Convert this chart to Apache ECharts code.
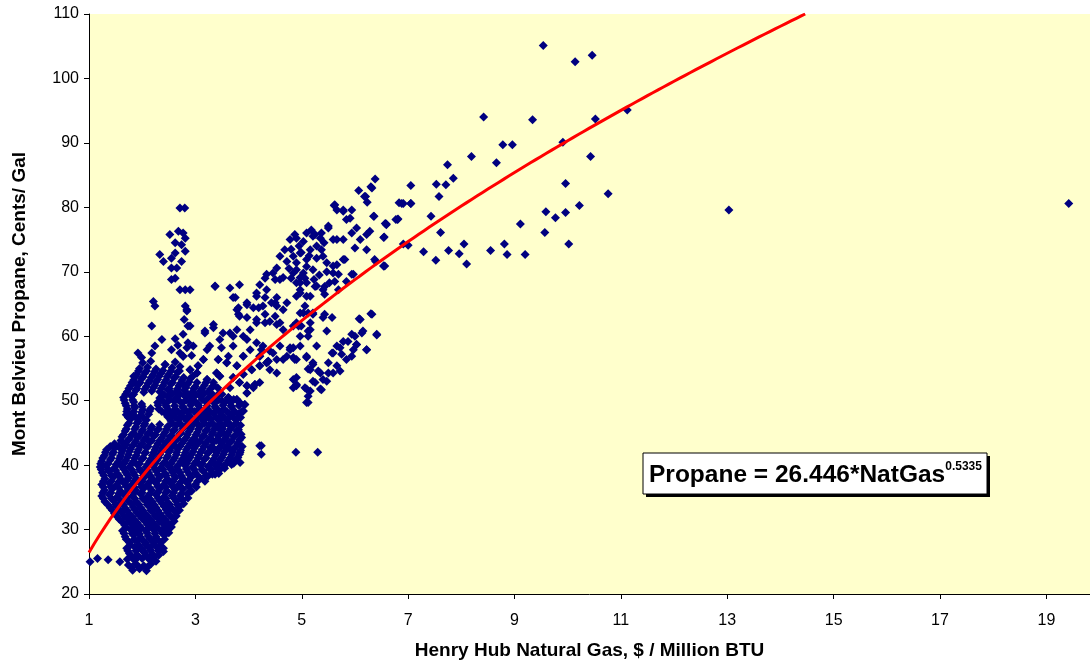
<!DOCTYPE html>
<html>
  <head>
    <meta charset="utf-8">
    <script src="https://cdn.jsdelivr.net/npm/echarts@6/dist/echarts.min.js"></script>
    <style>
      html, body { margin: 0; padding: 0; background: #fff; }
      #chart { width: 1090px; height: 665px; }
    </style>
  </head>
  <body>
    <div id="chart"></div>
    <script>
      // tick labels
      var xTicks = [1, 3, 5, 7, 9, 11, 13, 15, 17, 19];

      // fitted trend shown on the chart: Propane = 26.446*NatGas^0.5335
      var fitCoef = 26.446;
      var fitExp = 0.5335;

      // scatter points [natGas $/MMBTU, propane c/gal]
      var lowCluster = [
        [1.82,23.7],[1.95,23.9],[2.08,23.6],
        [1.74,24.5],[1.88,24.7],[2.03,24.4],[2.16,24.6],
        [1.02,25.0],[1.16,25.5],[1.36,25.3],[1.58,25.0],[1.72,25.4],[1.86,25.2],[2.00,25.5],[2.14,25.3],[2.26,25.1],
        [1.76,26.3],[1.90,26.1],[2.05,26.4],[2.19,26.2],[2.31,26.0],
        [1.71,27.1],[1.86,27.3],[1.99,27.0],[2.12,27.2],[2.26,27.4],[2.40,27.1],
        [1.76,28.0],[1.91,28.2],[2.07,27.9],[2.21,28.1],[2.35,28.0],
        [1.68,28.9],[1.84,29.1],[1.97,28.8],[2.11,29.0],[2.26,28.9],[2.43,29.2],
        [1.63,29.8],[1.78,30.0],[1.92,29.7],[2.07,29.9],[2.21,30.0],[2.35,29.8],[2.48,30.1],
        [1.67,30.7],[1.81,30.9],[1.95,30.6],[2.10,30.8],[2.24,30.7],[2.38,31.0],[2.52,30.8],
        [1.57,31.6],[1.71,31.8],[1.86,31.5],[2.00,31.7],[2.14,31.6],[2.28,31.9],[2.43,31.6],[2.57,31.8],
        [1.48,32.5],[1.61,32.7],[1.76,32.4],[1.90,32.6],[2.05,32.5],[2.19,32.8],[2.33,32.5],[2.47,32.7],[2.64,32.6],
        [1.40,33.4],[1.53,33.6],[1.68,33.3],[1.83,33.5],[1.97,33.4],[2.12,33.7],[2.26,33.4],[2.41,33.6],[2.55,33.3],[2.69,33.5]
      ];

      var midCluster = [
        [1.30,34.3],[1.46,34.5],[1.60,34.2],[1.74,34.4],[1.89,34.3],[2.05,34.6],[2.19,34.3],[2.33,34.5],[2.48,34.2],[2.64,34.4],[2.77,34.6],
        [1.24,35.2],[1.38,35.4],[1.53,35.1],[1.67,35.3],[1.82,35.2],[1.97,35.5],[2.11,35.2],[2.26,35.4],[2.41,35.1],[2.56,35.3],[2.71,35.2],[2.85,35.5],[2.93,36.0],
        [1.29,36.1],[1.44,36.3],[1.59,36.0],[1.74,36.2],[1.88,36.1],[2.03,36.4],[2.18,36.1],[2.33,36.3],[2.47,36.0],[2.62,36.2],[2.77,36.3],
        [1.24,37.0],[1.38,37.2],[1.52,36.9],[1.67,37.1],[1.81,37.0],[1.95,37.3],[2.10,37.0],[2.26,37.2],[2.40,36.9],[2.54,37.1],[2.69,37.0],[2.85,37.2],[3.00,37.0],
        [1.30,37.9],[1.46,38.1],[1.60,37.8],[1.74,38.0],[1.89,37.9],[2.05,38.2],[2.19,37.9],[2.33,38.1],[2.48,37.8],[2.62,38.0],[2.77,37.9],[2.92,38.1],[3.09,38.0],[3.24,38.3],[3.37,38.6],
        [1.25,38.8],[1.38,39.0],[1.53,38.7],[1.69,38.9],[1.84,38.8],[1.98,39.1],[2.12,38.8],[2.27,39.0],[2.43,38.7],[2.57,38.9],[2.71,38.8],[2.85,39.0],[3.00,38.8],[3.15,39.1],[3.30,39.3],[3.45,39.2],
        [1.21,39.7],[1.32,39.9],[1.48,39.6],[1.62,39.8],[1.76,39.7],[1.91,40.0],[2.07,39.7],[2.21,39.9],[2.35,39.6],[2.50,39.8],[2.65,39.7],[2.81,39.9],[2.95,39.7],[3.09,40.0],[3.24,39.8],[3.38,40.0],[3.53,39.9],[3.68,40.1],
        [1.24,40.6],[1.40,40.8],[1.55,40.5],[1.69,40.7],[1.84,40.6],[1.99,40.9],[2.14,40.6],[2.28,40.8],[2.43,40.5],[2.58,40.7],[2.73,40.6],[2.87,40.8],[3.02,40.6],[3.17,40.9],[3.32,40.6],[3.47,40.8],[3.62,40.7],[3.76,40.9],
        [1.29,41.5],[1.44,41.7],[1.59,41.4],[1.74,41.6],[1.89,41.5],[2.05,41.8],[2.19,41.5],[2.33,41.7],[2.48,41.4],[2.64,41.6],[2.79,41.5],[2.93,41.7],[3.07,41.5],[3.23,41.8],[3.38,41.5],[3.53,41.7],[3.68,41.6],[3.83,41.7],
        [1.33,42.4],[1.48,42.6],[1.63,42.3],[1.78,42.5],[1.93,42.4],[2.08,42.7],[2.24,42.4],[2.38,42.6],[2.52,42.3],[2.67,42.5],[2.83,42.4],[2.98,42.6],[3.13,42.4],[3.28,42.7],[3.43,42.4],[3.57,42.6],[3.72,42.5],[3.85,42.3],
        [1.48,43.3],[1.62,43.6],[1.70,43.2],[1.86,43.4],[2.00,43.3],[2.14,43.6],[2.29,43.3],[2.45,43.5],[2.60,43.2],[2.75,43.4],[2.90,43.3],[3.05,43.5],[3.19,43.3],[3.34,43.6],[3.49,43.3],[3.64,43.5],[3.80,43.4],
        [1.62,44.4],[1.76,44.1],[1.91,44.3],[2.07,44.2],[2.22,44.5],[2.37,44.2],[2.52,44.4],[2.67,44.1],[2.83,44.3],[2.98,44.2],[3.13,44.4],[3.28,44.2],[3.43,44.5],[3.57,44.2],[3.72,44.4],[3.87,44.3],
        [1.68,45.3],[1.84,45.0],[1.99,45.2],[2.14,45.1],[2.28,45.4],[2.43,45.1],[2.58,45.3],[2.73,45.0],[2.88,45.2],[3.04,45.1],[3.19,45.3],[3.33,45.1],[3.47,45.4],[3.62,45.1],[3.78,45.3],
        [1.72,46.2],[1.88,45.9],[2.03,46.1],[2.18,46.0],[2.33,46.3],[2.48,46.0],[2.64,46.2],[2.79,45.9],[2.94,46.1],[3.09,46.0],[3.25,46.2],[3.40,46.0],[3.55,46.3],[3.70,46.0],[3.85,46.2],
        [1.78,47.1],[1.93,46.8],[2.08,47.0],[2.54,46.9],[2.69,47.1],[2.85,46.8],[3.00,47.0],[3.15,46.9],[3.30,47.1],[3.45,46.9],[3.61,47.2],[3.76,47.0]
      ];

      var upperCore = [
        [1.70,47.8],[1.82,48.0],[1.97,47.7],[2.12,47.9],[2.43,48.1],[2.58,47.8],[2.73,48.0],[2.88,47.7],[3.04,47.9],[3.19,47.8],[3.34,48.1],[3.49,47.8],[3.64,48.0],[3.81,47.9],[3.90,48.4],
        [1.72,48.7],[1.86,48.9],[2.01,48.6],[2.16,48.8],[2.31,48.7],[2.46,49.0],[2.62,48.7],[2.77,48.9],[2.92,48.6],[3.07,48.8],[3.23,48.7],[3.38,48.9],[3.53,48.7],[3.68,49.0],[3.83,49.7],
        [1.68,49.6],[1.84,49.8],[1.99,49.5],[2.29,49.7],[2.45,49.6],[2.60,49.9],[2.75,49.6],[2.90,49.8],[3.05,49.5],[3.21,49.7],[3.36,49.6],[3.51,49.9],[3.66,49.7],[3.93,49.4],
        [1.65,50.5],[1.80,50.7],[2.33,50.4],[2.48,50.6],[2.64,50.5],[2.79,50.8],[2.94,50.5],[3.09,50.7],[3.25,50.4],[3.40,50.6],[3.62,50.5],[3.78,50.2],
        [1.72,51.4],[1.88,51.6],[2.03,51.3],[2.18,51.5],[2.33,51.4],[2.48,51.7],[2.64,51.4],[2.79,51.6],[2.94,51.3],[3.09,51.5],[3.25,51.4],[3.46,51.2],[3.97,51.2],
        [1.78,52.3],[1.93,52.5],[2.08,52.2],[2.24,52.4],[2.39,52.3],[2.54,52.6],[2.69,52.3],[2.85,52.5],[3.00,52.2],[3.17,52.4],[3.34,52.3],[3.83,52.8],[3.97,52.3],[4.12,52.5],
        [1.84,53.2],[1.99,53.4],[2.14,53.1],[2.29,53.3],[2.45,53.2],[2.60,53.5],[2.75,53.2],[2.90,53.4],[3.22,53.3],[3.46,53.8],[3.71,53.6],
        [1.90,54.1],[2.05,54.3],[2.20,54.0],[2.35,54.2],[2.50,54.1],[2.66,54.4],[2.90,54.8],[3.03,54.3],[3.40,54.3],[3.90,54.1],[4.06,54.8],
        [1.95,55.0],[2.10,55.2],[2.26,54.9],[2.43,55.6],[2.56,55.1],[2.71,55.3],[3.05,55.4],[3.78,55.4],[4.21,55.4],
        [2.01,55.9],[2.16,56.1],[2.62,56.0],[2.77,56.9],[3.15,56.4],[3.43,56.4],[3.59,55.9],[3.90,56.9],[4.21,56.9],[4.37,56.1],[4.34,55.9]
      ];

      // points sitting between the rows above, where the core is solid
      var coreFill = [
        [1.80,24.1],[1.95,24.1],[2.10,24.2],
        [1.79,25.8],[1.93,25.8],[2.08,25.9],[2.22,25.7],
        [1.73,26.7],[1.88,26.7],[2.02,26.6],[2.16,26.8],[2.30,26.7],[2.40,26.6],
        [1.78,27.6],[1.93,27.6],[2.06,27.7],[2.20,27.6],[2.34,27.5],
        [1.70,28.5],[1.85,28.5],[2.00,28.4],[2.14,28.6],[2.28,28.5],[2.42,28.5],
        [1.66,29.4],[1.81,29.4],[1.95,29.3],[2.09,29.5],[2.24,29.4],[2.38,29.4],[2.50,29.5],
        [1.70,30.3],[1.85,30.3],[1.99,30.2],[2.14,30.4],[2.28,30.3],[2.42,30.3],[2.55,30.4],
        [1.62,31.2],[1.76,31.2],[1.90,31.1],[2.05,31.3],[2.19,31.2],[2.33,31.2],[2.47,31.1],[2.60,31.3],
        [1.52,32.1],[1.66,32.1],[1.81,32.0],[1.95,32.2],[2.10,32.1],[2.24,32.1],[2.38,32.0],[2.52,32.2],[2.64,32.1],
        [1.44,33.0],[1.58,33.0],[1.72,32.9],[1.86,33.1],[2.01,33.0],[2.16,33.0],[2.30,32.9],[2.45,33.1],[2.59,33.0],[2.70,33.0],
        [1.35,33.9],[1.50,33.9],[1.65,33.8],[1.80,34.0],[1.94,33.9],[2.09,33.9],[2.23,33.8],[2.38,34.0],[2.52,33.9],[2.66,33.9],[2.78,34.0],
        [1.27,34.8],[1.42,34.8],[1.57,34.7],[1.71,34.9],[1.86,34.8],[2.01,34.8],[2.15,34.7],[2.30,34.9],[2.45,34.8],[2.60,34.8],[2.74,34.7],[2.86,34.9],
        [1.26,35.7],[1.41,35.7],[1.56,35.6],[1.71,35.8],[1.85,35.7],[2.00,35.7],[2.15,35.6],[2.30,35.8],[2.44,35.7],[2.59,35.7],[2.74,35.6],[2.88,35.8],
        [1.27,36.6],[1.41,36.6],[1.56,36.5],[1.70,36.7],[1.85,36.6],[1.99,36.6],[2.14,36.5],[2.29,36.7],[2.44,36.6],[2.58,36.6],[2.73,36.5],[2.88,36.7],[3.02,36.6],
        [1.27,37.5],[1.42,37.5],[1.56,37.4],[1.71,37.6],[1.85,37.5],[2.00,37.5],[2.14,37.4],[2.29,37.6],[2.44,37.5],[2.58,37.5],[2.73,37.4],[2.88,37.6],[3.04,37.5],[3.18,37.5],
        [1.28,38.4],[1.42,38.4],[1.57,38.3],[1.72,38.5],[1.86,38.4],[2.02,38.4],[2.16,38.3],[2.30,38.5],[2.45,38.4],[2.60,38.4],[2.74,38.3],[2.89,38.5],[3.04,38.4],[3.20,38.4],[3.32,38.6],[3.44,38.7],
        [1.23,39.3],[1.36,39.3],[1.50,39.2],[1.65,39.4],[1.80,39.3],[1.95,39.3],[2.10,39.2],[2.24,39.4],[2.39,39.3],[2.54,39.3],[2.68,39.2],[2.83,39.4],[2.98,39.3],[3.12,39.3],[3.27,39.4],[3.41,39.6],[3.55,39.5],
        [1.22,40.2],[1.36,40.2],[1.51,40.1],[1.66,40.3],[1.80,40.2],[1.95,40.2],[2.10,40.1],[2.25,40.3],[2.39,40.2],[2.54,40.2],[2.69,40.1],[2.84,40.3],[2.98,40.2],[3.13,40.2],[3.28,40.1],[3.43,40.3],[3.58,40.2],[3.72,40.3],[3.84,40.4],
        [1.26,41.1],[1.42,41.1],[1.57,41.0],[1.72,41.2],[1.86,41.1],[2.02,41.1],[2.17,41.0],[2.31,41.2],[2.46,41.1],[2.61,41.1],[2.76,41.0],[2.90,41.2],[3.05,41.1],[3.20,41.1],[3.35,41.0],[3.50,41.2],[3.65,41.1],[3.80,41.2],
        [1.31,42.0],[1.46,42.0],[1.61,41.9],[1.76,42.1],[1.91,42.0],[2.06,42.0],[2.21,41.9],[2.36,42.1],[2.50,42.0],[2.65,42.0],[2.81,41.9],[2.96,42.1],[3.10,42.0],[3.25,42.0],[3.40,41.9],[3.55,42.1],[3.70,42.0],[3.84,42.0],
        [1.40,42.9],[1.55,42.9],[1.66,42.8],[1.82,43.0],[1.96,42.9],[2.11,42.9],[2.26,42.8],[2.41,43.0],[2.56,42.9],[2.71,42.9],[2.86,42.8],[3.01,43.0],[3.16,42.9],[3.31,42.9],[3.46,42.8],[3.60,43.0],[3.76,42.9],[3.88,42.9],
        [1.60,43.8],[1.73,43.8],[1.88,43.7],[2.03,43.9],[2.18,43.8],[2.33,43.8],[2.48,43.7],[2.63,43.9],[2.79,43.8],[2.94,43.8],[3.09,43.7],[3.24,43.9],[3.39,43.8],[3.53,43.8],[3.68,43.7],[3.83,43.9],
        [1.65,44.7],[1.80,44.7],[1.95,44.6],[2.10,44.8],[2.25,44.7],[2.40,44.7],[2.55,44.6],[2.70,44.8],[2.85,44.7],[3.01,44.7],[3.16,44.6],[3.31,44.8],[3.45,44.7],[3.60,44.7],[3.75,44.6],[3.86,44.8],
        [1.70,45.6],[1.86,45.6],[2.01,45.5],[2.16,45.7],[2.31,45.6],[2.46,45.6],[2.61,45.5],[2.76,45.7],[2.91,45.6],[3.06,45.6],[3.22,45.5],[3.36,45.7],[3.51,45.6],[3.66,45.6],[3.81,45.5],
        [1.75,46.5],[1.90,46.5],[2.05,46.4],[2.56,46.5],[2.71,46.5],[2.87,46.4],[3.02,46.6],[3.17,46.5],[3.32,46.5],[3.47,46.4],[3.62,46.6],[3.77,46.5],
        [1.74,47.4],[1.88,47.4],[2.03,47.3],[2.48,47.5],[2.63,47.4],[2.78,47.4],[2.93,47.3],[3.09,47.5],[3.24,47.4],[3.39,47.4],[3.55,47.3],[3.70,47.5],[3.85,47.4],
        [1.71,48.3],[1.84,48.3],[1.99,48.2],[2.14,48.4],[2.37,48.3],[2.52,48.3],[2.68,48.2],[2.83,48.4],[2.98,48.3],[3.13,48.3],[3.28,48.2],[3.44,48.4],[3.59,48.3],[3.74,48.3],[3.86,48.2],
        [1.70,49.2],[1.85,49.2],[2.00,49.1],[2.30,49.3],[2.45,49.2],[2.61,49.2],[2.76,49.1],[2.91,49.3],[3.06,49.2],[3.22,49.2],[3.37,49.1],[3.52,49.3],[3.67,49.2],[3.82,49.2],
        [1.66,50.1],[1.82,50.1],[2.38,50.0],[2.52,50.2],[2.68,50.1],[2.83,50.1],[2.98,50.0],[3.13,50.2],[3.29,50.1],[3.44,50.1],[3.58,50.0],[3.72,50.2],
        [1.69,51.0],[1.84,51.0],[2.41,50.9],[2.56,51.1],[2.71,51.0],[2.86,51.0],[3.01,50.9],[3.17,51.1],[3.32,51.0],[3.50,51.0],
        [1.75,51.9],[1.90,51.9],[2.05,51.8],[2.21,52.0],[2.36,51.9],[2.51,51.9],[2.66,51.8],[2.82,52.0],[2.97,51.9],[3.13,51.9],[3.28,51.8],[3.42,52.0],
        [1.81,52.8],[1.96,52.8],[2.11,52.7],[2.26,52.9],[2.42,52.8],[2.57,52.8],[2.72,52.7],[2.88,52.9],[3.03,52.8],[3.20,52.8],
        [1.87,53.7],[2.02,53.7],[2.17,53.6],[2.32,53.8],[2.47,53.7],[2.63,53.7],[2.78,53.6],[2.95,53.8],
        [1.93,54.6],[2.08,54.6],[2.23,54.5],[2.39,54.7],[2.54,54.6],[2.70,54.6]
      ];

      var risingArm = [
        [2.71,79.9],[2.80,79.9],[2.52,75.8],[2.68,76.3],[2.77,76.0],[2.81,75.2],[2.62,74.5],[2.74,74.2],[2.81,73.2],[2.62,72.9],
        [2.55,72.1],[2.33,72.7],[2.40,71.6],[2.74,71.6],[2.55,70.6],[2.65,70.6],[2.55,68.8],[2.62,69.0],[2.71,67.2],[2.81,67.2],
        [2.90,67.2],[2.21,65.4],[2.24,64.7],[2.81,64.7],[2.84,63.9],[2.79,62.6],[2.90,61.6],[2.18,61.6],[2.37,59.5],[2.62,59.6],
        [2.77,60.3],[2.86,59.0],[2.55,57.9],[2.24,58.5],[2.18,57.4],[1.92,57.4],[1.99,56.7],[2.43,55.6],[2.71,57.4],[1.84,53.8],
        [1.86,52.8],[2.84,58.2],[2.93,57.0],[2.67,58.6],
        [3.37,67.8],[3.65,67.5],[3.83,68.0],[3.75,66.0],[4.21,68.0],[4.31,69.0],[4.46,69.8],[4.59,68.8],[4.72,71.6],[4.90,68.3],
        [5.06,69.0],[4.97,66.7],[5.09,66.2],[4.15,66.7],[4.31,66.0],[4.53,66.0],[4.50,65.2],[4.72,65.2],[4.65,64.1],[4.50,63.1],
        [4.19,64.4],[3.97,64.9],[3.81,64.4],[3.81,63.4],[3.97,62.9],[4.15,62.6],[4.31,62.1],[4.53,61.8],[4.65,61.0],[4.84,61.6],
        [4.99,61.6],[5.12,63.6],[5.12,60.8],[2.84,64.1],[2.86,61.6],[3.18,60.5],[3.34,61.3],[3.52,60.5],[3.71,60.0],[3.97,59.5],
        [4.15,59.0],[4.24,57.9],[4.40,57.7],[4.59,58.5],[4.72,56.9],[4.53,56.4],[4.37,56.1],[4.21,55.4],[4.06,54.8],[3.90,54.1],
        [3.71,53.6],[3.97,52.3],[4.12,52.5],[3.93,49.4],[3.78,50.2],[3.62,50.5],[3.46,51.2],[3.34,52.3],[3.22,53.3],[3.03,54.3],
        [2.90,54.8],[2.77,52.5],[2.77,56.9],[2.96,58.5],[3.27,58.5],[3.49,58.2],[3.62,56.9],[3.43,56.4],[3.15,56.4],[3.05,55.4],
        [3.40,54.3],[4.78,58.2],[4.87,56.4],[4.90,52.5],[5.06,52.0],[5.12,50.7],[5.09,49.7],[4.53,54.3],[4.40,54.8],[3.83,49.7],
        [3.90,48.4],[3.78,47.1],[3.65,46.1],[3.52,45.0],[3.46,43.7],[3.34,42.5],[3.65,42.5],[3.83,41.9],[4.24,43.0],[4.24,41.7]
      ];

      var rightArm = [
        [6.32,83.0],[6.20,81.7],[6.88,80.6],[7.05,80.6],[6.35,78.6],[6.57,77.5],[6.81,78.2],[6.22,75.8],[6.10,75.0],[5.94,76.0],
        [5.66,75.0],[5.50,76.8],[5.84,78.1],[5.66,79.6],[5.62,80.4],[5.94,79.6],[5.78,79.4],[6.54,70.9],[6.39,71.6],[5.81,71.9],
        [5.94,69.6],[5.66,71.1],[5.59,69.8],[5.47,71.4],[5.28,72.1],[5.09,76.0],[4.78,75.0],[4.90,75.2],[4.68,73.4],[4.59,72.4],
        [4.97,72.9],[5.21,75.5],[5.35,75.2],[5.16,73.4],[5.37,73.4],[4.90,71.4],[4.53,70.6],[4.34,69.6],[4.50,68.8],[4.65,69.1],
        [4.84,69.8],[4.97,69.1],[5.09,68.3],[5.25,67.7],[5.43,67.7],[5.16,66.2],[5.43,66.5],[4.97,67.2],[5.62,68.5],[5.69,67.2],
        [5.84,68.5],[5.97,69.6],[3.37,67.7],[3.71,66.0],[4.34,67.2],[4.15,66.2],[3.97,65.2],[4.09,64.4],[3.78,64.1],[3.83,63.1],
        [4.27,64.7],[4.43,65.2],[4.53,64.7],[4.31,63.4],[4.59,62.1],[4.40,62.3],[4.15,62.1],[4.03,61.0],[3.34,61.8],[3.18,60.8],
        [3.22,57.9],[3.46,59.5],[3.65,60.5],[3.78,61.0],[3.90,60.0],[3.71,58.5],[4.03,57.9],[4.27,58.5],[4.46,57.4],[4.21,56.9],
        [3.90,56.9],[3.59,55.9],[3.78,55.4],[3.46,53.8],[3.34,52.8],[3.65,52.0],[3.83,52.8],[3.97,51.2],[4.09,52.0],[4.21,52.8],
        [4.34,55.9],[4.65,56.4],[4.78,57.9],[4.97,60.0],[5.12,60.0],[5.16,62.1],[4.90,62.1],[5.03,63.6],[5.21,63.4],[5.43,63.4],
        [5.57,62.9],[5.47,60.8],[5.28,58.5],[4.97,58.5],[4.84,56.7],[5.09,56.9],[5.21,55.9],[5.16,54.8],[5.31,54.6],[5.50,55.9],
        [5.40,53.3],[5.25,52.8],[5.16,51.5],[5.37,51.7],[5.50,54.3],[5.59,57.4],[5.72,58.2],[5.87,59.2],[6.00,60.0],[6.15,60.8],
        [6.10,62.6],[6.32,63.4],[6.41,60.3],[5.66,55.4],[5.72,54.6],[5.84,56.4],[5.97,57.9],[6.03,58.7],[6.22,57.9],[4.90,52.3],
        [4.84,53.3],[5.12,49.7],[4.21,43.0],[4.89,42.0],[5.30,42.0],
        [6.38,84.4],[6.07,82.6],[6.30,83.2],[6.18,81.7],[6.23,80.8],[6.83,80.7],[5.61,80.3],[5.78,79.6],[5.91,78.3],[6.36,78.6],
        [6.59,77.3],[6.77,78.1],[5.50,77.1],[6.03,76.8],[6.28,76.3],[6.55,75.4],[4.87,75.8],[5.25,75.8],[5.03,74.7],[5.59,75.0],
        [5.78,75.0],[6.00,73.7],[6.22,73.4],[4.84,72.4],[5.09,71.9],[5.40,72.4],[5.78,71.9],[4.90,70.3],[5.03,69.8],[5.21,70.3],
        [5.59,70.9],[5.69,69.6],[6.37,71.9],[6.56,70.9],[4.97,68.3],[5.28,67.8],[5.40,67.2],[4.90,66.2],[5.06,64.7],[4.97,63.6],
        [5.21,63.6],[5.40,62.9],[4.94,61.6],[5.16,61.0],[6.08,62.7],[6.30,63.5],[5.94,60.3],[6.13,60.5],[6.41,60.2],[5.78,59.2],
        [6.03,58.7],[6.22,57.9],[5.66,58.5],[5.57,57.4],[5.75,57.2],[5.94,56.9],[4.84,58.2],[4.90,56.4],[5.09,56.7],[5.21,55.6],
        [5.12,54.9],[5.35,54.3],[5.59,54.3],[4.90,53.6],[5.21,53.0],[5.47,53.0],[4.84,52.0],[5.09,51.8],[5.35,51.8],
        [4.80,73.5],[4.99,73.0],[5.14,72.5],[5.28,74.0],[5.42,74.5],[5.18,76.5],[5.37,76.0],[4.95,74.0],[5.09,70.8],[5.33,69.5],
        [5.47,70.0],[4.80,69.0],[5.23,68.8],[5.52,68.3],[4.76,70.5]
      ];

      var sparseHigh = [
        [9.54,105.1],[10.14,102.6],[10.46,103.6],[8.42,94.0],[9.34,93.6],[9.91,90.1],[10.52,93.7],[11.12,95.1],[8.78,89.7],[8.96,89.7],
        [8.19,87.9],[8.66,86.9],[10.43,87.9],[7.74,86.6],[7.85,84.5],[7.53,83.6],[7.71,83.5],[7.58,81.7],[9.96,83.7],[10.76,82.1],
        [7.43,78.6],[9.59,79.3],[9.96,79.2],[10.22,80.3],[9.77,78.4],[9.11,77.4],[7.61,76.1],[9.57,76.1],[10.02,74.3],[7.29,73.1],
        [7.76,73.3],[7.96,72.8],[8.05,74.3],[7.52,71.8],[8.10,71.2],[8.55,73.3],[8.81,74.3],[8.86,72.7],[9.20,72.7],
        [7.05,83.4],[6.91,80.6],[7.05,80.6],[6.80,78.1],[6.59,77.4],[6.54,75.3],[6.91,74.3],[7.00,74.1],[6.54,70.9]
      ];

      var outliers = [[13.03,79.6],[19.42,80.6]];

      var points = [].concat(lowCluster, midCluster, upperCore, coreFill, risingArm, rightArm, sparseHigh, outliers);

      // trend line from the displayed equation, up to where it leaves the top of the plot
      var yTop = 110;
      var xEnd = Math.pow(yTop / fitCoef, 1 / fitExp);
      var trend = [];
      for (var x = 1; x < xEnd; x += 0.1) {
        trend.push([x, fitCoef * Math.pow(x, fitExp)]);
      }
      trend.push([xEnd, yTop]);

      var font = 'Arial, "Liberation Sans", sans-serif';
      var chart = echarts.init(document.getElementById('chart'));
      chart.setOption({
        animation: false,
        backgroundColor: '#ffffff',
        grid: {
          left: 89, right: 0, top: 14, bottom: 70,
          show: true, backgroundColor: '#FFFFCC', borderWidth: 0
        },
        xAxis: {
          type: 'value', min: 1, max: 19.82,
          name: 'Henry Hub Natural Gas, $ / Million BTU',
          nameLocation: 'middle', nameGap: 47,
          nameTextStyle: { fontFamily: font, fontSize: 19, fontWeight: 'bold', color: '#000' },
          axisLine: { lineStyle: { color: '#000', width: 1 } },
          axisTick: { show: true, length: 5, customValues: xTicks, lineStyle: { color: '#000' } },
          axisLabel: { customValues: xTicks, fontFamily: font, fontSize: 16, color: '#000', margin: 19 },
          splitLine: { show: false }
        },
        yAxis: {
          type: 'value', min: 20, max: 110, interval: 10,
          name: 'Mont Belvieu Propane, Cents/ Gal',
          nameLocation: 'middle', nameGap: 60,
          nameTextStyle: { fontFamily: font, fontSize: 19, fontWeight: 'bold', color: '#000' },
          axisLine: { show: true, lineStyle: { color: '#000', width: 1 } },
          axisTick: { show: true, length: 5, lineStyle: { color: '#000' } },
          axisLabel: { fontFamily: font, fontSize: 16, color: '#000', margin: 10 },
          splitLine: { show: false }
        },
        series: [
          {
            type: 'scatter',
            data: points,
            symbol: 'diamond',
            symbolSize: 9,
            itemStyle: { color: '#000080', opacity: 1 },
            silent: true,
            z: 2
          },
          {
            type: 'line',
            data: trend,
            showSymbol: false,
            smooth: false,
            lineStyle: { color: '#FF0000', width: 3 },
            silent: true,
            z: 3
          }
        ],
        graphic: [
          { type: 'rect', shape: { x: 646, y: 456, width: 344, height: 41 }, style: { fill: '#000' }, z: 10 },
          { type: 'rect', shape: { x: 643, y: 453, width: 344, height: 41 }, style: { fill: '#fff', stroke: '#000', lineWidth: 1 }, z: 11 },
          {
            type: 'text', x: 649, y: 475, z: 12,
            style: {
              text: '{b|Propane = 26.446*NatGas}{s|0.5335}',
              verticalAlign: 'middle',
              rich: {
                b: { fontFamily: font, fontSize: 24.5, fontWeight: 'bold', fill: '#000', lineHeight: 28 },
                s: { fontFamily: font, fontSize: 12, fontWeight: 'bold', fill: '#000', verticalAlign: 'top', lineHeight: 28 }
              }
            }
          }
        ]
      });
    </script>
  </body>
</html>
